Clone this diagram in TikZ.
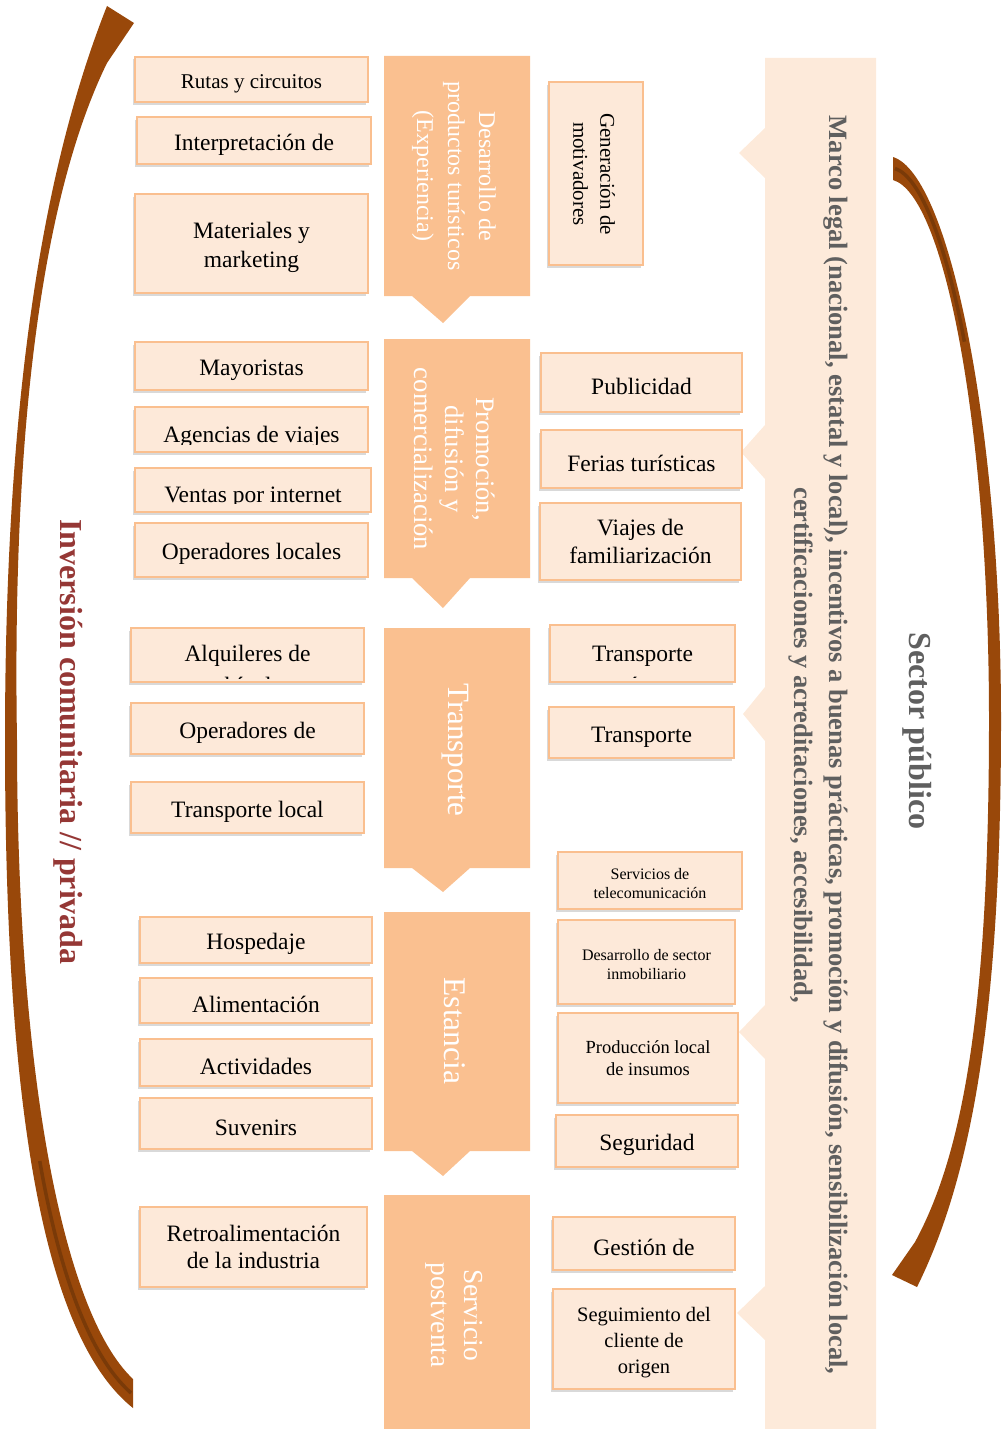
\documentclass[tikz,border=0pt]{standalone}
\usepackage{fontspec}
\setmainfont{Liberation Serif}
\usetikzlibrary{shadows}

\definecolor{chevfill}{RGB}{250,192,144}
\definecolor{boxfill}{RGB}{253,233,217}
\definecolor{boxline}{RGB}{250,191,143}
\definecolor{panelfill}{RGB}{253,234,218}
\definecolor{arcbrown}{RGB}{153,72,10}
\definecolor{arcdark}{RGB}{122,58,8}
\definecolor{pubgray}{RGB}{95,95,95}
\definecolor{invred}{RGB}{149,55,53}

\newcommand{\alto}{\rule{0pt}{1.05em}}

\tikzset{
  caja/.style={draw=boxline, line width=1.8pt, fill=boxfill, align=center, inner sep=1pt,
    drop shadow={shadow xshift=-2.5pt, shadow yshift=-2.5pt, opacity=.3},
    font=\fontsize{23.5}{27.5}\selectfont, execute at begin node={\alto}},
  etapatxt/.style={rotate=-90, text=white, align=center},
  marco/.style={rotate=-90, text=pubgray, align=center, font=\bfseries},
  cajatxt/.style={anchor=base, font=\fontsize{23.5}{27.5}\selectfont}
}

% chevron: top, bottom, tip
\newcommand{\etapa}[3]{\fill[chevfill] (384,#1) -- (530,#1) -- (530,#2) -- (470,#2) -- (443,#3) -- (412,#2) -- (384,#2) -- cycle;}

\begin{document}
\begin{tikzpicture}[x=1pt,y=-1pt]
\useasboundingbox (0,0) rectangle (1005,1429);

% curved arrows
\fill[arcbrown] (107,6) -- (134,23) -- (107,63) .. controls (40,200) and (12,440) .. (17,740)
  .. controls (17,1060) and (60,1310) .. (133,1379) -- (133,1408)
  .. controls (35,1330) and (5,1070) .. (5,740) .. controls (5,420) and (38,180) .. (107,6) -- cycle;
\draw[arcdark, line width=3.5pt] (39.75,1161) .. controls (59.5,1274.5) and (90,1356.5) .. (131,1393);
\fill[arcbrown] (893,157) .. controls (950,175) and (1001,430) .. (1001,720)
  .. controls (1001,1000) and (975,1170) .. (917,1287) -- (892,1275) -- (915,1242)
  .. controls (965,1150) and (989,1000) .. (989,720) .. controls (989,430) and (945,195) .. (893,180) -- cycle;
\draw[arcdark, line width=3.5pt] (895,168.5) .. controls (920.25,176.75) and (945.75,242.1) .. (964.4,341.7);

\node[rotate=-90, text=invred, font=\fontsize{32}{38}\selectfont\bfseries] (inversion) at (68,742) {Inversión comunitaria // privada};
\node[marco, font=\fontsize{32}{38}\selectfont\bfseries] (sector) at (917,731) {Sector público};

% right panel
\fill[panelfill] (765,58) -- (876,58) -- (876,1429) -- (765,1429) -- (765,1340) -- (737,1313) -- (765,1286)
  -- (765,1059) -- (739,1032) -- (765,1005) -- (765,741) -- (743,714) -- (765,687)
  -- (765,479) -- (741,452) -- (765,425) -- (765,178) -- (739,153) -- (765,128) -- cycle;
\node[marco, font=\fontsize{26.5}{35}\selectfont\bfseries] (marcolegal) at (818,745)
  {Marco legal (nacional, estatal y local), incentivos a buenas prácticas, promoción y difusión, sensibilización local,\\
   certificaciones y acreditaciones, accesibilidad,};

% stages
\etapa{56}{296}{323}
\etapa{339}{578}{608}
\etapa{628}{868}{892}
\etapa{912}{1151}{1176}
\fill[chevfill] (384,1195) rectangle (530,1429);
\node[etapatxt, font=\fontsize{24}{31}\selectfont] (desarrollo) at (454,176) {Desarrollo de\\productos turísticos\\(Experiencia)};
\node[etapatxt, font=\fontsize{26.7}{31}\selectfont] (promocion) at (455,459) {Promoción,\\difusión y\\comercialización};
\node[etapatxt, font=\fontsize{31}{36}\selectfont] (transporte) at (455,750) {Transporte};
\node[etapatxt, font=\fontsize{31.5}{36}\selectfont] (estancia) at (455,1031) {Estancia};
\node[etapatxt, font=\fontsize{27.5}{33}\selectfont] (postventa) at (454,1315) {Servicio\\postventa};

% left boxes
\node[caja, minimum width=233pt, minimum height=45pt, font=\fontsize{21}{25}\selectfont] (rutas) at (251.5,79.5) {Rutas y circuitos};
\node[caja, minimum width=234pt, minimum height=47pt] (interp) at (254,140.5) {Interpretación de};
\node[caja, minimum width=233pt, minimum height=99pt, font=\fontsize{23.5}{29}\selectfont] (materiales) at (251.5,243.5) {\alto Materiales y\\marketing};
\node[caja, minimum width=233pt, minimum height=48pt] (mayoristas) at (251.5,366) {Mayoristas};
\node[caja, minimum width=233pt, minimum height=45pt] (agencias) at (251.5,429.5) {};
\begin{scope}
  \clip (136,408) rectangle (367,444);
  \node[cajatxt] (agencias-t) at (251.5,442) {Agencias de viajes};
\end{scope}
\node[caja, minimum width=236pt, minimum height=44pt] (ventas) at (253,490) {};
\begin{scope}
  \clip (136,469) rectangle (370,503);
  \node[cajatxt] (ventas-t) at (253,502) {Ventas por internet};
\end{scope}
\node[caja, minimum width=233pt, minimum height=54pt] (oplocales) at (251.5,550) {Operadores locales};

\node[caja, minimum width=233pt, minimum height=54pt] (alquileres) at (247.5,655) {};
\begin{scope}
  \clip (132,629) rectangle (363,678);
  \node[cajatxt] (alq1) at (247.5,661) {Alquileres de};
  \node[cajatxt] (alq2) at (247.5,693) {vehículos};
\end{scope}
\node[caja, minimum width=233pt, minimum height=51pt] (opde) at (247.5,728.5) {Operadores de};
\node[caja, minimum width=233pt, minimum height=51pt] (translocal) at (247.5,807.5) {Transporte local};

\node[caja, minimum width=232pt, minimum height=46pt] (hospedaje) at (256,940) {Hospedaje};
\node[caja, minimum width=232pt, minimum height=45pt] (alimentacion) at (256,1000.5) {Alimentación};
\node[caja, minimum width=232pt, minimum height=47pt] (actividades) at (256,1062.5) {Actividades};
\node[caja, minimum width=232pt, minimum height=51pt] (suvenirs) at (256,1123.5) {Suvenirs};
\node[caja, minimum width=227pt, minimum height=80pt] (retro) at (253.5,1247) {Retroalimentación\\de la industria};

% right boxes
\node[caja, minimum width=94pt, minimum height=183pt] (motiv) at (596,173.5) {};
\node[rotate=-90, align=center, font=\fontsize{21}{27}\selectfont] (motiv-t) at (594,174) {Generación de\\motivadores};
\node[caja, minimum width=201pt, minimum height=59pt] (publicidad) at (641.5,382.5) {Publicidad};
\node[caja, minimum width=201pt, minimum height=58pt] (ferias) at (641.5,459) {Ferias turísticas};
\node[caja, minimum width=201pt, minimum height=77pt] (viajes) at (640.5,541.5) {Viajes de\\familiarización};

\node[caja, minimum width=185pt, minimum height=57pt] (aereo) at (642.5,653.5) {};
\begin{scope}
  \clip (551,626) rectangle (734,677);
  \node[cajatxt] (aereo1) at (642.5,661) {Transporte};
  \node[cajatxt] (aereo2) at (642.5,693) {aéreo};
\end{scope}
\node[caja, minimum width=185pt, minimum height=51pt] (terrestre) at (641.5,732.5) {Transporte};

\node[caja, minimum width=184pt, minimum height=57pt, font=\fontsize{16}{19}\selectfont] (telecom) at (650,880.5) {\alto Servicios de\\telecomunicación};
\node[caja, minimum width=177pt, minimum height=84pt, font=\fontsize{16}{19}\selectfont] (inmob) at (646.5,962) {\alto Desarrollo de sector\\inmobiliario};
\node[caja, minimum width=180pt, minimum height=90pt, font=\fontsize{18.5}{22}\selectfont] (insumos) at (648,1058) {Producción local\\de insumos};
\node[caja, minimum width=182pt, minimum height=52pt] (seguridad) at (647,1141) {Seguridad};
\node[caja, minimum width=182pt, minimum height=53pt] (gestion) at (644,1243.5) {Gestión de};
\node[caja, minimum width=182pt, minimum height=100pt, font=\fontsize{20.5}{26}\selectfont] (seguim) at (644,1339) {\alto Seguimiento del\\cliente de\\origen};
\end{tikzpicture}
\end{document}
